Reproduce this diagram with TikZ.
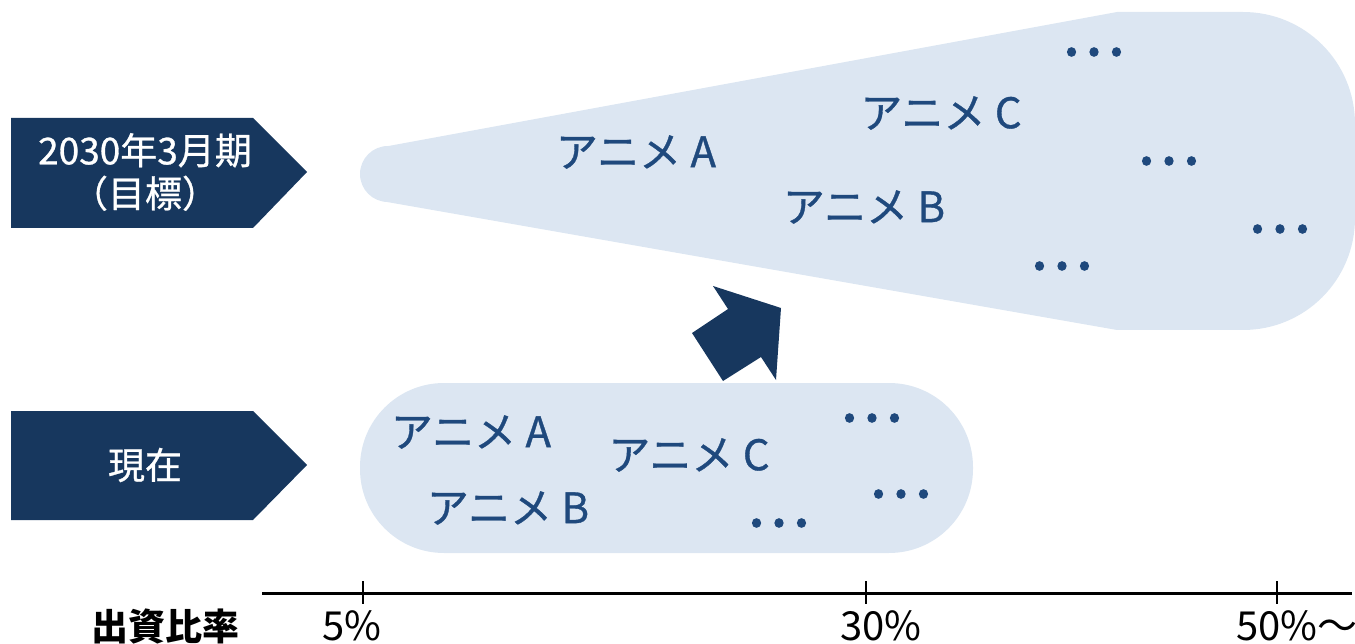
\documentclass[tikz,border=0pt]{standalone}
\usepackage{fontspec}
\setmainfont{Noto Sans CJK JP}
\usepackage{xcolor}
\usepackage{tikz}
\usetikzlibrary{positioning}

\definecolor{navy}{HTML}{17375E}
\definecolor{pale}{HTML}{DCE6F2}
\definecolor{ink}{HTML}{1F497D}

\tikzset{
  anime/.style={text=ink, inner sep=0pt, font=\fontsize{42}{42}\selectfont\addfontfeature{FakeBold=0.8}},
  more/.style={text=ink, inner sep=0pt, font=\fontsize{60}{60}\selectfont\addfontfeature{FakeBold=2}},
  tag/.style={text=white, align=center, inner sep=0pt, font=\fontsize{37}{43}\selectfont\addfontfeature{FakeBold=0.8}},
  ratio/.style={anchor=base, inner sep=0pt, font=\fontsize{40}{40}\selectfont},
}

\begin{document}
\begin{tikzpicture}[x=1pt,y=-1pt]
    \useasboundingbox (0,0) rectangle (1355,644);

    % goal cone and current pill
    \fill[pale] (388,174) circle (28);
    \fill[pale] (383,147) -- (1117,12) -- (1243,12)
        .. controls (1305,12) and (1355,62) .. (1355,124) -- (1355,218)
        .. controls (1355,280) and (1305,330) .. (1243,330)
        -- (1117,330) -- (387,202) -- cycle;
    \fill[pale, rounded corners=84] (360,383) rectangle (973,553);

    % arrow between the two stages
    \fill[navy] (713,286) -- (781,308) -- (776,380) -- (761,357)
        -- (723,381) -- (692,333) -- (728,309) -- cycle;

    % stage tags
    \fill[navy] (11,118) -- (253,118) -- (307,172) -- (253,228) -- (11,228) -- cycle;
    \node[tag] (goal) at (145,172) {2030年3月期\\（目標）};
    \fill[navy] (11,411) -- (253,411) -- (307,465) -- (253,520) -- (11,520) -- cycle;
    \node[tag] (now) at (145,465) {現在};

    % titles in the cone
    \node[anime] (goalA) at (636,152) {アニメ A};
    \node[anime] (goalC) at (941,113) {アニメ C};
    \node[anime] (goalB) at (864,207) {アニメ B};
    \node[more] (goal1) at (1093,52) {…};
    \node[more] (goal2) at (1168,161) {…};
    \node[more] (goal3) at (1279,229) {…};
    \node[more] (goal4) at (1061,266) {…};

    % titles in the pill
    \node[anime] (nowA) at (471,432) {アニメ A};
    \node[anime] (nowC) at (689,455) {アニメ C};
    \node[anime] (nowB) at (508,508) {アニメ B};
    \node[more] (now1) at (871,418) {…};
    \node[more] (now2) at (900,494) {…};
    \node[more] (now3) at (778,523) {…};

    % ratio axis
    \coordinate (axisL) at (262,593);
    \coordinate (axisR) at (1352,593);
    \draw[line width=3pt] (axisL) -- (axisR);
    \foreach \t in {363,866,1277}
        \draw[line width=2pt] (\t,581) -- (\t,604);
    \node[ratio, font=\fontsize{37}{37}\selectfont\bfseries] (rationame) at (165,640) {出資比率};
    \node[ratio] (r5) at (352,640) {5\%};
    \node[ratio] (r30) at (881,640) {30\%};
    \node[ratio] (r50) at (1297,640) {50\%～};
\end{tikzpicture}
\end{document}
